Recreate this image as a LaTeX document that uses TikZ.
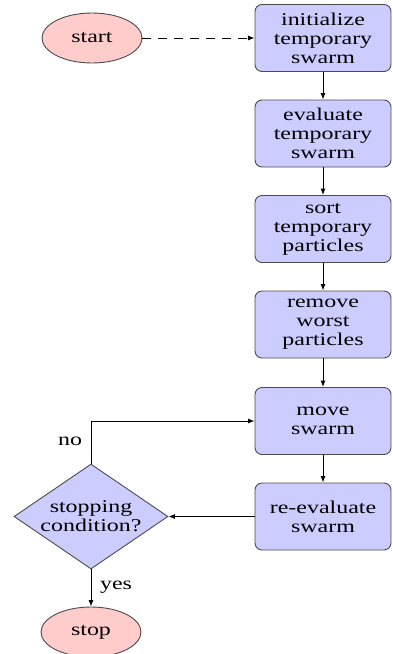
\documentclass[tikz,border=0pt]{standalone}
\usepackage{fontspec}
\setmainfont{Liberation Serif}[FakeStretch=1.33]
\usetikzlibrary{shapes.geometric,arrows.meta}
\begin{document}
\begin{tikzpicture}[x=1pt,y=-1pt,
  txt/.style={font=\fontsize{18}{19}\selectfont},
  blockbox/.style={txt, rectangle, draw=black!70, line width=0.9pt, fill=blue!20, rounded corners=7pt, minimum width=136pt, minimum height=67pt, align=center, inner sep=2pt},
  cloudbox/.style={txt, ellipse, draw=black!70, line width=0.9pt, fill=red!20, minimum width=100pt, minimum height=50pt, inner sep=0pt},
  decisionbox/.style={txt, diamond, draw=black!70, line width=0.9pt, fill=blue!20, minimum width=154pt, minimum height=105pt, aspect=1.47, inner sep=0pt, align=center},
  conn/.style={draw, line width=0.9pt, -{Latex[length=6.5pt,width=5pt]}},
  lbl/.style={txt}]
\useasboundingbox (0,0) rectangle (392,654);
\node[cloudbox] (start) at (92,38) {start};
\node[blockbox] (init) at (323,38) {initialize\\temporary\\swarm};
\node[blockbox] (eval) at (323,133.5) {evaluate\\temporary\\swarm};
\node[blockbox] (sort) at (323,229) {sort\\temporary\\particles};
\node[blockbox] (remove) at (323,324.5) {remove\\worst\\particles};
\node[blockbox] (move) at (323,421) {move\\swarm};
\node[blockbox] (reeval) at (323,516.5) {re-evaluate\\swarm};
\node[decisionbox] (decide) at (91,516.5) {stopping\\condition?};
\node[cloudbox] (stop) at (91,632) {stop};
\draw[conn, dash pattern=on 9pt off 7pt] (start) -- (init);
\draw[conn] (init) -- (eval);
\draw[conn] (eval) -- (sort);
\draw[conn] (sort) -- (remove);
\draw[conn] (remove) -- (move);
\draw[conn] (move) -- (reeval);
\draw[conn] (reeval.west) -- (decide.east);
\draw[conn] (decide.north) |- (move.west);
\draw[conn] (decide.south) -- (stop.north);
\node[lbl] (nolbl) at (70,441) {no};
\node[lbl] (yeslbl) at (116,587) {yes};
\end{tikzpicture}
\end{document}
